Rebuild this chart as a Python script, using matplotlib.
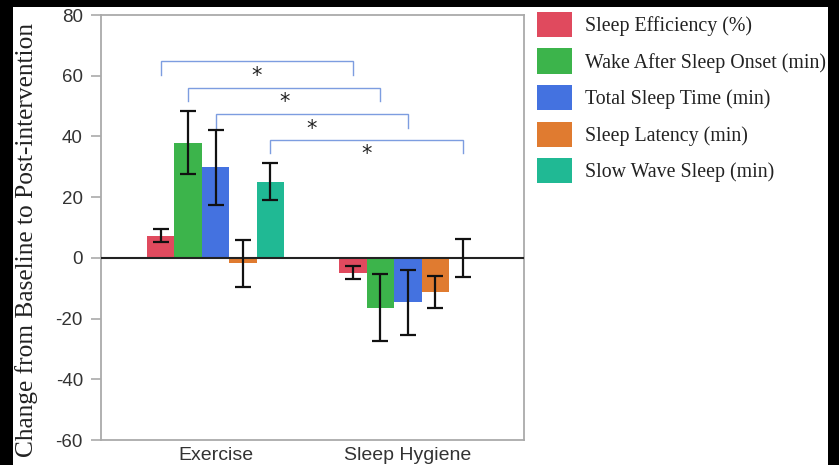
import matplotlib
matplotlib.use("Agg")
import matplotlib.pyplot as plt
from matplotlib.patches import Patch, Rectangle
import numpy as np

plt.rcParams["axes.unicode_minus"] = False

groups = ["Exercise", "Sleep Hygiene"]
series = ["Sleep Efficiency (%)", "Wake After Sleep Onset (min)", "Total Sleep Time (min)",
          "Sleep Latency (min)", "Slow Wave Sleep (min)"]
colors = ["#e04a5e", "#3cb44b", "#4472e0", "#e07b30", "#20b994"]
exercise_vals = [7.3, 38.0, 29.8, -1.8, 25.1]
exercise_err = [2.2, 10.3, 12.4, 7.8, 6.0]
hygiene_vals = [-4.9, -16.4, -14.7, -11.2, 0.0]
hygiene_err = [2.1, 11.0, 10.8, 5.3, 6.3]
yticks = [80, 60, 40, 20, 0, -20, -40, -60]
sig_series = [0, 1, 2, 4]
sig_levels = [64.7, 56.0, 47.3, 38.9]

W, H = 839, 465
fig = plt.figure(figsize=(W / 100, H / 100), dpi=100, facecolor="black")
fig.patches.append(Rectangle((13 / W, 0), (828 - 13) / W, (H - 7) / H,
                             transform=fig.transFigure, facecolor="white",
                             edgecolor="none", zorder=-10))
ax = fig.add_axes([101 / W, 25 / H, (524 - 101) / W, (440 - 15) / H])

w = 1 / 7
gx = np.arange(len(groups))
vals = np.array([exercise_vals, hygiene_vals])
errs = np.array([exercise_err, hygiene_err])
for i, (name, c) in enumerate(zip(series, colors)):
    xs = gx + (i - 2) * w
    ax.bar(xs, vals[:, i], width=w, color=c, edgecolor="none", zorder=2)
    ax.errorbar(xs, vals[:, i], yerr=errs[:, i], fmt="none", ecolor="#111111",
                elinewidth=1.6, capsize=6, capthick=1.6, zorder=4)

ax.axhline(0, color="#222222", lw=1.5, zorder=3)

tick = 4.4
for si, lvl in zip(sig_series, sig_levels):
    x1 = gx[0] + (si - 2) * w
    x2 = gx[1] + (si - 2) * w
    ax.plot([x1, x1, x2, x2], [lvl - tick, lvl, lvl, lvl - tick], color="#7d9de0",
            lw=1.0, zorder=3, solid_joinstyle="miter")
    ax.text((x1 + x2) / 2, lvl - 4.8, "*", ha="center", va="center", fontsize=15,
            color="#222222", family="DejaVu Sans")

ax.set_xlim(-0.595, 1.603)
ax.set_ylim(-60, 80)
ax.set_yticks(yticks)
ax.set_xticks(gx)
ax.set_xticklabels(groups)
for sp in ax.spines.values():
    sp.set_color("#aaaaaa")
    sp.set_linewidth(1.3)
ax.tick_params(axis="y", length=7, color="#aaaaaa", width=1.2, pad=6,
               labelsize=13.5, labelcolor="#333333")
ax.tick_params(axis="x", length=0, pad=5, labelsize=14, labelcolor="#333333")
for lab in ax.get_xticklabels() + ax.get_yticklabels():
    lab.set_family("Liberation Sans")

fig.text(27 / W, 1 - 240 / H, "Change from Baseline to Post-intervention", rotation=90,
         ha="center", va="center", fontsize=18.3, family="Liberation Serif", color="#222222")

handles = [Patch(facecolor=c, edgecolor="none") for c in colors]
leg = fig.legend(handles, series, loc="upper left", bbox_to_anchor=(533 / W, 1 - 8 / H),
                 frameon=False, prop={"family": "Liberation Serif", "size": 14.3},
                 handlelength=1.76, handleheight=1.56, labelspacing=0.58,
                 handletextpad=0.65, borderpad=0.2, borderaxespad=0)
for t in leg.get_texts():
    t.set_color("#222222")

fig.savefig("out.png", dpi=100, facecolor="black")
